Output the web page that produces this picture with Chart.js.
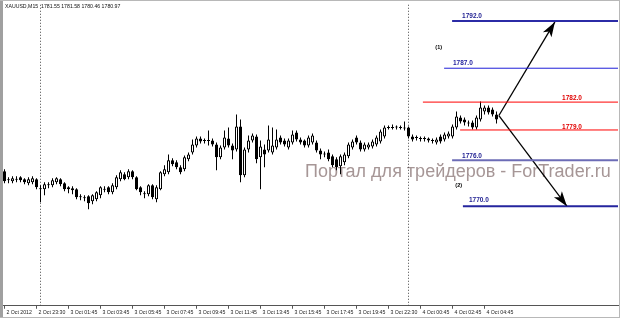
<!DOCTYPE html>
<html>
<head>
<meta charset="utf-8">
<script src="https://cdn.jsdelivr.net/npm/chart.js@4.4.1/dist/chart.umd.min.js"></script>
<style>
  html, body { margin: 0; padding: 0; background: #fff; }
  #wrap { width: 622px; height: 321px; }
</style>
</head>
<body>
<div id="wrap"><canvas id="chart" width="622" height="321"></canvas></div>
<script>
/* =========================================================
   DATA  (XAUUSD M15, one entry per bar)
========================================================= */
const open = [
  1775.0,1774.2,1774.0,1774.2,1774.4,1774.2,1773.8,1773.9,1774.2,1773.3,
  1773.2,1773.6,1773.6,1773.9,1774.2,1773.8,1773.2,1773.3,1773.2,1772.5,
  1772.4,1772.5,1772.0,1772.2,1772.6,1773.2,1773.4,1772.9,1773.4,1774.2,
  1774.7,1774.4,1775.0,1774.4,1773.4,1772.8,1772.7,1773.6,1772.2,1773.2,
  1774.7,1774.9,1776.1,1775.9,1775.4,1775.2,1776.2,1776.9,1777.6,1778.3,
  1778.1,1778.1,1778.1,1777.7,1776.4,1777.4,1778.3,1777.6,1777.2,1779.5,
  1774.6,1777.2,1778.1,1778.5,1776.4,1777.2,1777.1,1776.9,1777.4,1778.4,
  1778.1,1777.4,1777.9,1778.9,1778.2,1778.1,1777.6,1777.9,1777.9,1777.1,
  1776.8,1776.9,1776.5,1776.2,1775.5,1775.9,1776.5,1777.4,1778.4,1777.9,
  1777.2,1777.4,1777.5,1777.7,1778.0,1778.5,1779.4,1779.4,1779.4,1779.4,
  1779.4,1779.4,1778.5,1778.4,1778.3,1778.3,1778.3,1778.1,1777.9,1778.5,
  1778.2,1778.5,1778.5,1779.4,1780.4,1780.2,1779.9,1779.9,1779.4,1780.2,
  1781.0,1781.4,1781.2,1780.7
];
const high = [
  1775.2,1774.4,1774.5,1774.5,1774.5,1774.3,1774.4,1774.5,1774.3,1773.6,
  1773.9,1773.9,1774.3,1774.4,1774.3,1773.9,1773.5,1773.5,1773.3,1772.7,
  1772.6,1772.6,1772.7,1773.0,1773.5,1773.5,1773.5,1773.8,1774.6,1775.1,
  1774.9,1775.2,1775.1,1774.5,1773.5,1773.0,1773.7,1773.7,1773.6,1775.0,
  1775.6,1776.7,1776.3,1776.1,1775.6,1776.6,1776.9,1778.2,1778.5,1778.5,
  1778.3,1779.1,1778.3,1777.9,1777.6,1779.1,1779.4,1777.8,1780.7,1780.2,
  1777.4,1778.6,1778.8,1778.7,1778.1,1777.7,1779.6,1779.4,1779.2,1778.6,
  1778.3,1778.3,1779.1,1779.1,1778.4,1778.2,1778.6,1778.8,1778.1,1777.3,
  1777.0,1777.2,1776.7,1776.4,1776.7,1776.9,1777.9,1778.2,1778.6,1778.1,
  1777.9,1777.9,1778.2,1778.6,1779.2,1779.6,1779.6,1779.7,1779.6,1779.6,
  1780.0,1779.5,1778.7,1778.6,1778.5,1778.5,1778.4,1778.3,1778.4,1778.7,
  1778.9,1779.0,1779.7,1781.0,1780.6,1780.4,1780.1,1780.1,1780.6,1782.0,
  1781.6,1781.6,1781.4,1781.0
];
const low = [
  1773.8,1773.8,1773.8,1773.9,1773.9,1773.7,1773.6,1773.7,1773.2,1771.9,
  1772.6,1773.3,1773.4,1773.7,1773.5,1773.0,1772.8,1772.7,1772.2,1772.1,
  1772.0,1771.2,1771.7,1772.0,1772.3,1772.9,1772.7,1772.7,1773.2,1774.0,
  1774.1,1774.2,1774.2,1773.1,1772.6,1772.3,1772.5,1772.2,1771.9,1773.1,
  1774.5,1774.7,1775.5,1775.2,1774.7,1775.0,1776.0,1776.7,1777.4,1777.8,
  1777.8,1777.6,1777.5,1775.1,1776.2,1777.2,1777.4,1776.2,1777.0,1773.9,
  1774.4,1776.9,1777.9,1775.8,1773.2,1775.4,1776.9,1776.7,1777.2,1777.7,
  1777.5,1777.2,1777.7,1778.0,1777.7,1777.4,1777.4,1777.7,1776.9,1776.2,
  1776.4,1776.0,1775.4,1775.1,1774.7,1775.6,1776.3,1777.2,1777.7,1777.0,
  1777.0,1777.2,1777.3,1777.5,1777.8,1778.3,1779.2,1779.2,1779.2,1779.2,
  1779.1,1778.3,1778.0,1778.1,1778.0,1778.0,1777.9,1777.8,1777.7,1777.8,
  1778.0,1778.3,1778.3,1779.2,1779.8,1779.6,1779.5,1779.2,1779.2,1780.0,
  1780.7,1780.7,1780.5,1779.8
];
const close = [
  1774.0,1774.1,1774.3,1774.15,1774.1,1773.9,1774.2,1774.3,1773.4,1773.2,
  1773.7,1773.7,1774.1,1774.3,1773.7,1773.2,1773.4,1773.1,1772.4,1772.4,
  1772.3,1771.8,1772.6,1772.9,1773.4,1773.15,1772.9,1773.6,1774.4,1774.9,
  1774.2,1775.0,1774.4,1773.2,1772.9,1772.7,1773.6,1772.4,1773.4,1774.9,
  1775.2,1776.1,1775.7,1775.4,1774.9,1776.4,1776.7,1777.7,1778.3,1778.0,
  1778.05,1778.05,1777.7,1776.4,1777.4,1778.4,1777.6,1777.1,1779.5,1774.6,
  1777.2,1778.1,1778.6,1776.2,1777.5,1776.7,1778.2,1777.6,1778.2,1777.9,
  1777.7,1778.1,1778.7,1778.2,1777.9,1777.6,1778.4,1778.6,1777.1,1776.7,
  1776.7,1776.2,1775.6,1775.4,1776.5,1776.7,1777.7,1778.0,1777.9,1777.2,
  1777.7,1777.7,1778.0,1778.4,1779.0,1779.4,1779.35,1779.35,1779.45,1779.35,
  1779.3,1778.5,1778.2,1778.35,1778.25,1778.25,1778.1,1778.05,1778.2,1778.0,
  1778.7,1778.8,1779.5,1780.5,1780.0,1779.9,1779.8,1779.4,1780.4,1781.4,
  1781.4,1780.9,1780.7,1780.2
];

// time axis: a label every 8 bars
const tickBars   = [0, 8, 16, 24, 32, 40, 48, 56, 64, 72, 80, 88, 96, 104, 112, 120];
const tickLabels = [
  "2 Oct 2012", "2 Oct 23:30", "3 Oct 01:45", "3 Oct 03:45", "3 Oct 05:45",
  "3 Oct 07:45", "3 Oct 09:45", "3 Oct 11:45", "3 Oct 13:45", "3 Oct 15:45",
  "3 Oct 17:45", "3 Oct 19:45", "3 Oct 22:30", "4 Oct 00:45", "4 Oct 02:45",
  "4 Oct 04:45"
];

// day separators (bar index of 00:00)
const daySeps = [9, 101];

// forecast levels
const levelText  = ["1792.0", "1787.0", "1782.0", "1779.0", "1776.0", "1770.0"];
const levelAt    = [1790.1, 1785.35, 1781.95, 1779.15, 1776.1, 1771.5];
const levelFrom  = [111.9, 109.9, 104.6, 113.9, 111.9, 114.6];
const levelLabX  = [114.4, 112.1, 139.4, 139.4, 114.4, 116.1];
const levelLabY  = [1790.6, 1785.85, 1782.3, 1779.4, 1776.5, 1772.1];

// scenario arrows (1) up, (2) down
const arrowFrom  = { x: 123.6, y: 1780.6 };
const arrowTipX  = [137.6, 140.6];
const arrowTipY  = [1790.0, 1771.5];
const scenText   = ["(1)", "(2)"];
const scenX      = [107.7, 112.7];
const scenY      = [1787.4, 1773.6];

const header = "XAUUSD,M15  1781.55 1781.58 1780.46 1780.97";

/* =========================================================
   STYLES
========================================================= */
const BULL = "#ffffff";
const BEAR = "#000000";
const levelColor = ["#2b2ba6", "#1f1fd8", "#ff0000", "#ff0000", "#6c6cb6", "#25259e"];
const labelColor = ["#1c1c90", "#1c1c9c", "#e00000", "#e00000", "#1c1c90", "#1c1c90"];
const levelWidth = [2, 1, 1, 1, 2, 2];

const X_MIN = -0.375, X_MAX = 153.375;
const Y_MIN = 1761.5, Y_MAX = 1791.9;

/* =========================================================
   DATASETS
========================================================= */
const datasets = [];

levelText.forEach((t, i) => {
  datasets.push({
    type: "line",
    data: [{ x: levelFrom[i], y: levelAt[i] }, { x: X_MAX, y: levelAt[i] }],
    borderColor: levelColor[i],
    borderWidth: levelWidth[i],
    pointRadius: 0,
    fill: false
  });
});

arrowTipX.forEach((tx, i) => {
  datasets.push({
    type: "line",
    arrow: true,
    data: [arrowFrom, { x: tx, y: arrowTipY[i] }],
    borderColor: "#000",
    borderWidth: 1.3,
    pointRadius: 0,
    fill: false
  });
});

// candle bodies
datasets.push({
  type: "bar",
  data: open.map((o, i) => ({ x: i, y: [o, close[i]] })),
  backgroundColor: open.map((o, i) => close[i] > o ? BULL : BEAR),
  borderColor: "#000",
  borderWidth: 1,
  borderSkipped: false,
  barThickness: 3,
  minBarLength: 1,
  grouped: false,
  inflateAmount: 0
});

// wicks
datasets.push({
  type: "bar",
  data: high.map((h, i) => ({ x: i, y: [low[i], h] })),
  backgroundColor: "#000",
  borderWidth: 0,
  barThickness: 1,
  grouped: false,
  inflateAmount: 0
});

// day separators
daySeps.forEach(d => {
  datasets.push({
    type: "line",
    data: [{ x: d, y: Y_MIN }, { x: d, y: Y_MAX }],
    borderColor: "#444",
    borderWidth: 1,
    borderDash: [1, 2],
    pointRadius: 0,
    fill: false
  });
});

/* =========================================================
   OVERLAY PLUGIN (frame, watermark, labels, arrowheads)
========================================================= */
const overlay = {
  id: "overlay",
  beforeDraw(chart) {
    const ctx = chart.ctx;
    ctx.save();
    ctx.fillStyle = "#fff";
    ctx.fillRect(0, 0, chart.width, chart.height);
    ctx.restore();
  },
  beforeDatasetsDraw(chart) {
    const ctx = chart.ctx;
    ctx.save();
    ctx.font = '18px "Liberation Sans", Arial, sans-serif';
    ctx.fillStyle = "#a69696";
    ctx.textBaseline = "alphabetic";
    ctx.fillText("Портал для трейдеров - ForTrader.ru", 305, 177);
    ctx.restore();
  },
  afterDatasetsDraw(chart) {
    const ctx = chart.ctx;
    const xs = chart.scales.x, ys = chart.scales.y;
    ctx.save();

    // arrowheads
    chart.data.datasets.forEach((ds, di) => {
      if (!ds.arrow) return;
      const pts = chart.getDatasetMeta(di).data;
      const a = pts[0], b = pts[pts.length - 1];
      const ang = Math.atan2(b.y - a.y, b.x - a.x);
      const len = 15, half = 5;
      ctx.fillStyle = "#000";
      ctx.beginPath();
      ctx.moveTo(b.x, b.y);
      ctx.lineTo(b.x - len * Math.cos(ang) + half * Math.sin(ang),
                 b.y - len * Math.sin(ang) - half * Math.cos(ang));
      ctx.lineTo(b.x - len * 0.75 * Math.cos(ang), b.y - len * 0.75 * Math.sin(ang));
      ctx.lineTo(b.x - len * Math.cos(ang) - half * Math.sin(ang),
                 b.y - len * Math.sin(ang) + half * Math.cos(ang));
      ctx.closePath();
      ctx.fill();
    });

    // level labels
    ctx.font = 'bold 6.5px "Liberation Sans", Arial, sans-serif';
    ctx.textBaseline = "middle";
    ctx.textAlign = "left";
    levelText.forEach((t, i) => {
      ctx.fillStyle = labelColor[i];
      ctx.fillText(t, xs.getPixelForValue(levelLabX[i]), ys.getPixelForValue(levelLabY[i]));
    });

    // scenario marks
    ctx.fillStyle = "#000";
    ctx.font = 'bold 5.5px "Liberation Sans", Arial, sans-serif';
    scenText.forEach((t, i) => {
      ctx.fillText(t, xs.getPixelForValue(scenX[i]), ys.getPixelForValue(scenY[i]));
    });
    ctx.restore();
  },
  afterDraw(chart) {
    const ctx = chart.ctx;
    ctx.save();
    // window frame
    ctx.fillStyle = "#a0a0a0";
    ctx.fillRect(0, 0, 3, 318);
    ctx.strokeStyle = "#b8b8b8";
    ctx.lineWidth = 1;
    ctx.beginPath();
    ctx.moveTo(0, 0.5); ctx.lineTo(620, 0.5);
    ctx.moveTo(619.5, 0); ctx.lineTo(619.5, 318);
    ctx.moveTo(0, 317.5); ctx.lineTo(620, 317.5);
    ctx.stroke();

    // symbol header
    ctx.fillStyle = "#111";
    ctx.font = '5.2px "Liberation Sans", Arial, sans-serif';
    ctx.textBaseline = "middle";
    ctx.fillText(header, 5, 7);
    ctx.restore();
  }
};

/* =========================================================
   CHART
========================================================= */
new Chart(document.getElementById("chart"), {
  type: "bar",
  data: { datasets },
  options: {
    responsive: false,
    animation: false,
    events: [],
    layout: { padding: { left: 3, top: 3, right: 4, bottom: 4 } },
    plugins: {
      legend: { display: false },
      tooltip: { enabled: false }
    },
    scales: {
      x: {
        type: "linear",
        offset: false,
        min: X_MIN,
        max: X_MAX,
        afterBuildTicks: s => { s.ticks = tickBars.map(v => ({ value: v })); },
        afterFit: s => { s.paddingLeft = 0; s.paddingRight = 0; },
        grid: { offset: false, drawOnChartArea: false, drawTicks: true, tickLength: 3, color: "#555" },
        border: { display: true, color: "#555" },
        ticks: {
          autoSkip: false,
          maxRotation: 0,
          align: "start",
          labelOffset: 2,
          padding: 1,
          color: "#222",
          font: { family: "Liberation Sans", size: 5.2 },
          callback: v => tickLabels[tickBars.indexOf(v)] ?? ""
        }
      },
      y: {
        type: "linear",
        display: false,
        min: Y_MIN,
        max: Y_MAX
      }
    }
  },
  plugins: [overlay]
});
</script>
</body>
</html>
